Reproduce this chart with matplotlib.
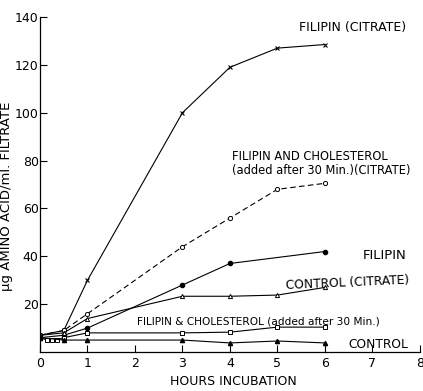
import matplotlib
matplotlib.use("Agg")
import matplotlib.pyplot as plt

# horas de incubação e valores (µg aminoácido/ml filtrado)
horas = [0, 0.5, 1, 3, 4, 5, 6]
filipin_citrato = [7, 9, 30, 100, 119, 127, 128.5]
filipin_col_citrato = [7, 9, 16, 44, 56, 68, 70.5]
horas_filipin = [0, 0.5, 1, 3, 4, 6]
filipin = [6, 7, 10, 28, 37, 42]
controle_citrato = [7, 8, 14, 23.3, 23.3, 23.8, 27]
horas_fc = [0, 0.15, 0.25, 0.35, 0.5, 1, 3, 4, 5, 6]
filipin_col = [6, 5, 5, 5, 6, 8, 8, 8.3, 10.4, 10.4]
controle = [6, 5, 5, 5, 3.8, 4.6, 3.8]

xticks = [0, 1, 2, 3, 4, 5, 6, 7, 8]
yticks = [20, 40, 60, 80, 100, 120, 140]

plt.rcParams["font.family"] = ["DejaVu Sans"]

fig = plt.figure(figsize=(4.23, 3.91), dpi=100)
ax = fig.add_axes([0.0946, 0.0997, 0.898, 0.8568])

kw = dict(color="black", lw=0.8, ms=3)
ax.plot(horas, filipin_citrato, "-x", mew=0.8, **kw)
ax.plot(horas, filipin_col_citrato, "--o", mfc="white", mew=0.7, dashes=(5, 3), **kw)
ax.plot(horas_filipin, filipin, "-o", **kw)
ax.plot(horas, controle_citrato, "-^", mfc="white", mew=0.7, **kw)
ax.plot(horas_fc, filipin_col, "-s", mfc="white", mew=0.7, **kw)
ax.plot(horas, controle, "-^", **kw)

ax.text(5.45, 134, "FILIPIN (CITRATE)", fontsize=9)
ax.text(4.05, 73, "FILIPIN AND CHOLESTEROL\n(added after 30 Min.)(CITRATE)",
        fontsize=8.3, linespacing=1.15, va="bottom")
ax.text(6.8, 39, "FILIPIN", fontsize=9.5)
ax.text(5.18, 26.5, "CONTROL (CITRATE)", fontsize=8.8, rotation=2.5)
ax.text(2.05, 11.5, "FILIPIN & CHOLESTEROL (added after 30 Min.)", fontsize=7.6)
ax.text(6.5, 1.5, "CONTROL", fontsize=8.8)

ax.set_xlim(0, 8)
ax.set_ylim(0, 140)
ax.set_xticks(xticks)
ax.set_yticks(yticks)
ax.tick_params(direction="in", length=5, width=0.8, labelsize=9)
ax.tick_params(axis="y", pad=1)
for s in ("top", "right"):
    ax.spines[s].set_visible(False)
ax.spines["left"].set_linewidth(0.9)
ax.spines["bottom"].set_linewidth(0.9)
ax.set_xlabel("HOURS INCUBATION", fontsize=9)
ax.set_ylabel("µg AMINO ACID/ml. FILTRATE", fontsize=9.5)
ax.yaxis.set_label_coords(-0.07, 0.466)
ax.xaxis.set_label_coords(0.51, -0.07)

fig.savefig("out.png", dpi=100)
